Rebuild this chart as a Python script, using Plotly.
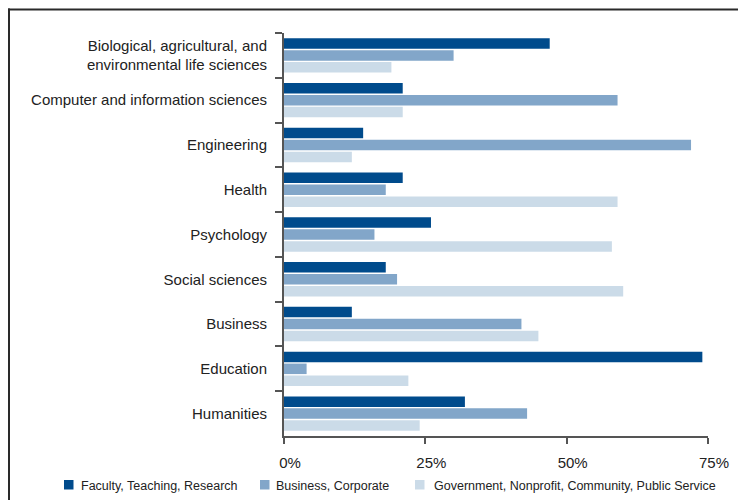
import plotly.graph_objects as go

categories = [
    "Biological, agricultural, and<br>environmental life sciences",
    "Computer and information sciences",
    "Engineering",
    "Health",
    "Psychology",
    "Social sciences",
    "Business",
    "Education",
    "Humanities",
]
faculty = [47, 21, 14, 21, 26, 18, 12, 74, 32]
business = [30, 59, 72, 18, 16, 20, 42, 4, 43]
government = [19, 21, 12, 59, 58, 60, 45, 22, 24]
series_names = [
    "Faculty, Teaching, Research",
    "Business, Corporate",
    "Government, Nonprofit, Community, Public Service",
]
colors = ["#004b8c", "#82a6c9", "#cbdbe8"]
x_ticks = [0, 25, 50, 75]
x_tick_labels = ["0%", "25%", "50%", "75%"]

# page body has an 8px default margin, so the figure is 8px smaller
OFF = 8
W, H = 746 - OFF, 500 - OFF
ML, MR, MT, MB = 284 - OFF, 38, 33 - OFF, 64
PW, PH = W - ML - MR, H - MT - MB


def px_x(p):
    return (p - OFF - ML) / PW


def px_y(p):
    return (H - MB - (p - OFF)) / PH


fig = go.Figure()
for name, vals, col in zip(series_names, [faculty, business, government], colors):
    fig.add_trace(go.Bar(
        y=categories, x=vals, name=name, orientation="h",
        marker=dict(color=col, line=dict(width=0)),
    ))

# outer frame: only left and top edges are visible
frame = dict(color="#2a2a2a", width=2)
fig.add_shape(type="line", xref="paper", yref="paper",
              x0=px_x(9), x1=px_x(9), y0=px_y(8.5), y1=px_y(505),
              line=frame, layer="below")
fig.add_shape(type="line", xref="paper", yref="paper",
              x0=px_x(8), x1=px_x(750), y0=px_y(9.5), y1=px_y(9.5),
              line=frame, layer="below")

font_family = "Liberation Sans, Arial, Helvetica, sans-serif"

# legend drawn as squares + text
legend_sq_x = [64, 260, 415]
legend_txt_x = [79, 274, 432]
for name, col, sx, tx in zip(series_names, colors, legend_sq_x, legend_txt_x):
    fig.add_shape(type="rect", xref="paper", yref="paper",
                  x0=px_x(sx), x1=px_x(sx + 9.5), y0=px_y(489.5), y1=px_y(480),
                  line=dict(width=0), fillcolor=col)
    fig.add_annotation(xref="paper", yref="paper", x=px_x(tx), y=px_y(486),
                       xanchor="left", yanchor="middle", showarrow=False,
                       text=name, font=dict(size=12.5, color="#222222"))

fig.update_layout(
    width=W, height=H,
    margin=dict(l=ML, r=MR, t=MT, b=MB, pad=0, autoexpand=False),
    paper_bgcolor="white", plot_bgcolor="white",
    barmode="group", bargap=0.2, bargroupgap=0.12,
    font=dict(family=font_family, color="#222222", size=15),
    showlegend=False,
    xaxis=dict(range=[0, 75], tickvals=x_ticks, ticktext=x_tick_labels,
               showgrid=False, zeroline=False, showline=True,
               linecolor="#555555", linewidth=1.5, ticks="outside",
               ticklen=6, tickwidth=1.5, tickcolor="#555555",
               tickfont=dict(size=15, color="#222222"),
               ticklabelshift=6, ticklabelstandoff=6, fixedrange=True),
    yaxis=dict(autorange="reversed", showgrid=False, zeroline=False,
               showline=True, linecolor="#555555", linewidth=2,
               ticks="outside", ticklen=7, tickwidth=1.5, tickcolor="#555555",
               tickson="boundaries", tickfont=dict(size=15, color="#222222"),
               ticklabelstandoff=12, fixedrange=True),
)

fig.write_html("out.html")
